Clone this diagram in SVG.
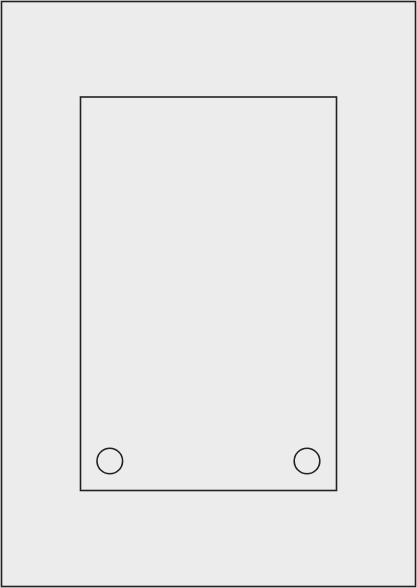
<svg xmlns="http://www.w3.org/2000/svg" width="417" height="588" viewBox="0 0 417 588">
<style>
.ln{fill:none;stroke:#222;stroke-width:1.6}
</style>
<rect x="0" y="0" width="417" height="588" fill="#ececec"/>
<g id="outer"><rect class="ln" x="1.5" y="1.5" width="414" height="585"/></g>
<g id="panel"><rect class="ln" x="80.5" y="97" width="256" height="393.5"/></g>
<g id="hole-left"><circle class="ln" cx="109.8" cy="461" r="12.8"/></g>
<g id="hole-right"><circle class="ln" cx="307" cy="461" r="12.8"/></g>
<g id="connectors"></g>
</svg>
